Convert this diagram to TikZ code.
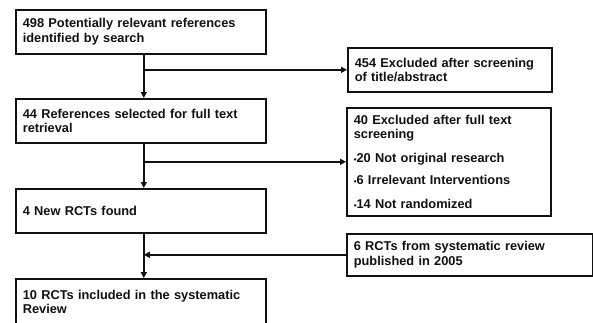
\documentclass[tikz,border=0pt]{standalone}
\usepackage{fontspec}
\setmainfont{Liberation Sans}
\usetikzlibrary{arrows.meta,positioning}
\definecolor{ink}{HTML}{111111}
\newcommand{\pt}{{\fontsize{8}{8}\selectfont •}}
\tikzset{
  box/.style={draw=ink, line width=1.6pt, rectangle, anchor=north west, align=left, inner sep=7pt, text=ink, font=\fontsize{12.8}{14.5}\selectfont\bfseries, minimum height=44pt},
  lbox/.style={box, minimum width=250pt, text width=236pt},
  rbox/.style={box, minimum width=204pt, text width=190pt},
  flow/.style={draw=ink, line width=1.6pt, -{Triangle[length=6pt,width=6pt]}},
}

\begin{document}
\begin{tikzpicture}[x=1pt, y=-1pt]
\clip (0,0) rectangle (593,322);
\fill[white] (0,0) rectangle (593,322);
% main column
\node[lbox] (found) at (15,9) {498 Potentially relevant references\\identified by search};
\node[lbox] (full) at (15,98) {44 References selected for full text\\retrieval};
\node[lbox] (new) at (15,188) {4 New RCTs found};
\node[lbox, minimum height=46pt] (incl) at (15,278) {10 RCTs included in the systematic\\Review};
% side boxes
\node[rbox] (excl1) at (347,47) {454 Excluded after screening\\of title/abstract};
\node[rbox, minimum height=108pt] (excl2) at (346,107) {40 Excluded after full text\\screening\\[9pt]\pt20 Not original research\\[8pt]\pt6 Irrelevant Interventions\\[9pt]\pt14 Not randomized};
\node[rbox, minimum width=246pt, text width=232pt, minimum height=42pt] (prior) at (346,233) {6 RCTs from systematic review\\published in 2005};
% connectors
\draw[flow] ([xshift=3pt]found.south) -- ([xshift=3pt]full.north);
\draw[flow] ([xshift=3pt]found.south |- excl1.west) -- (excl1.west);
\draw[flow] ([xshift=3pt]full.south) -- ([xshift=3pt]new.north);
\draw[flow] ([xshift=3pt]full.south |- excl2.west) -- (excl2.west);
\draw[flow] ([xshift=3pt]new.south) -- ([xshift=3pt]incl.north);
\draw[flow] (prior.west) -- ([xshift=3pt]new.south |- prior.west);
\end{tikzpicture}
\end{document}
